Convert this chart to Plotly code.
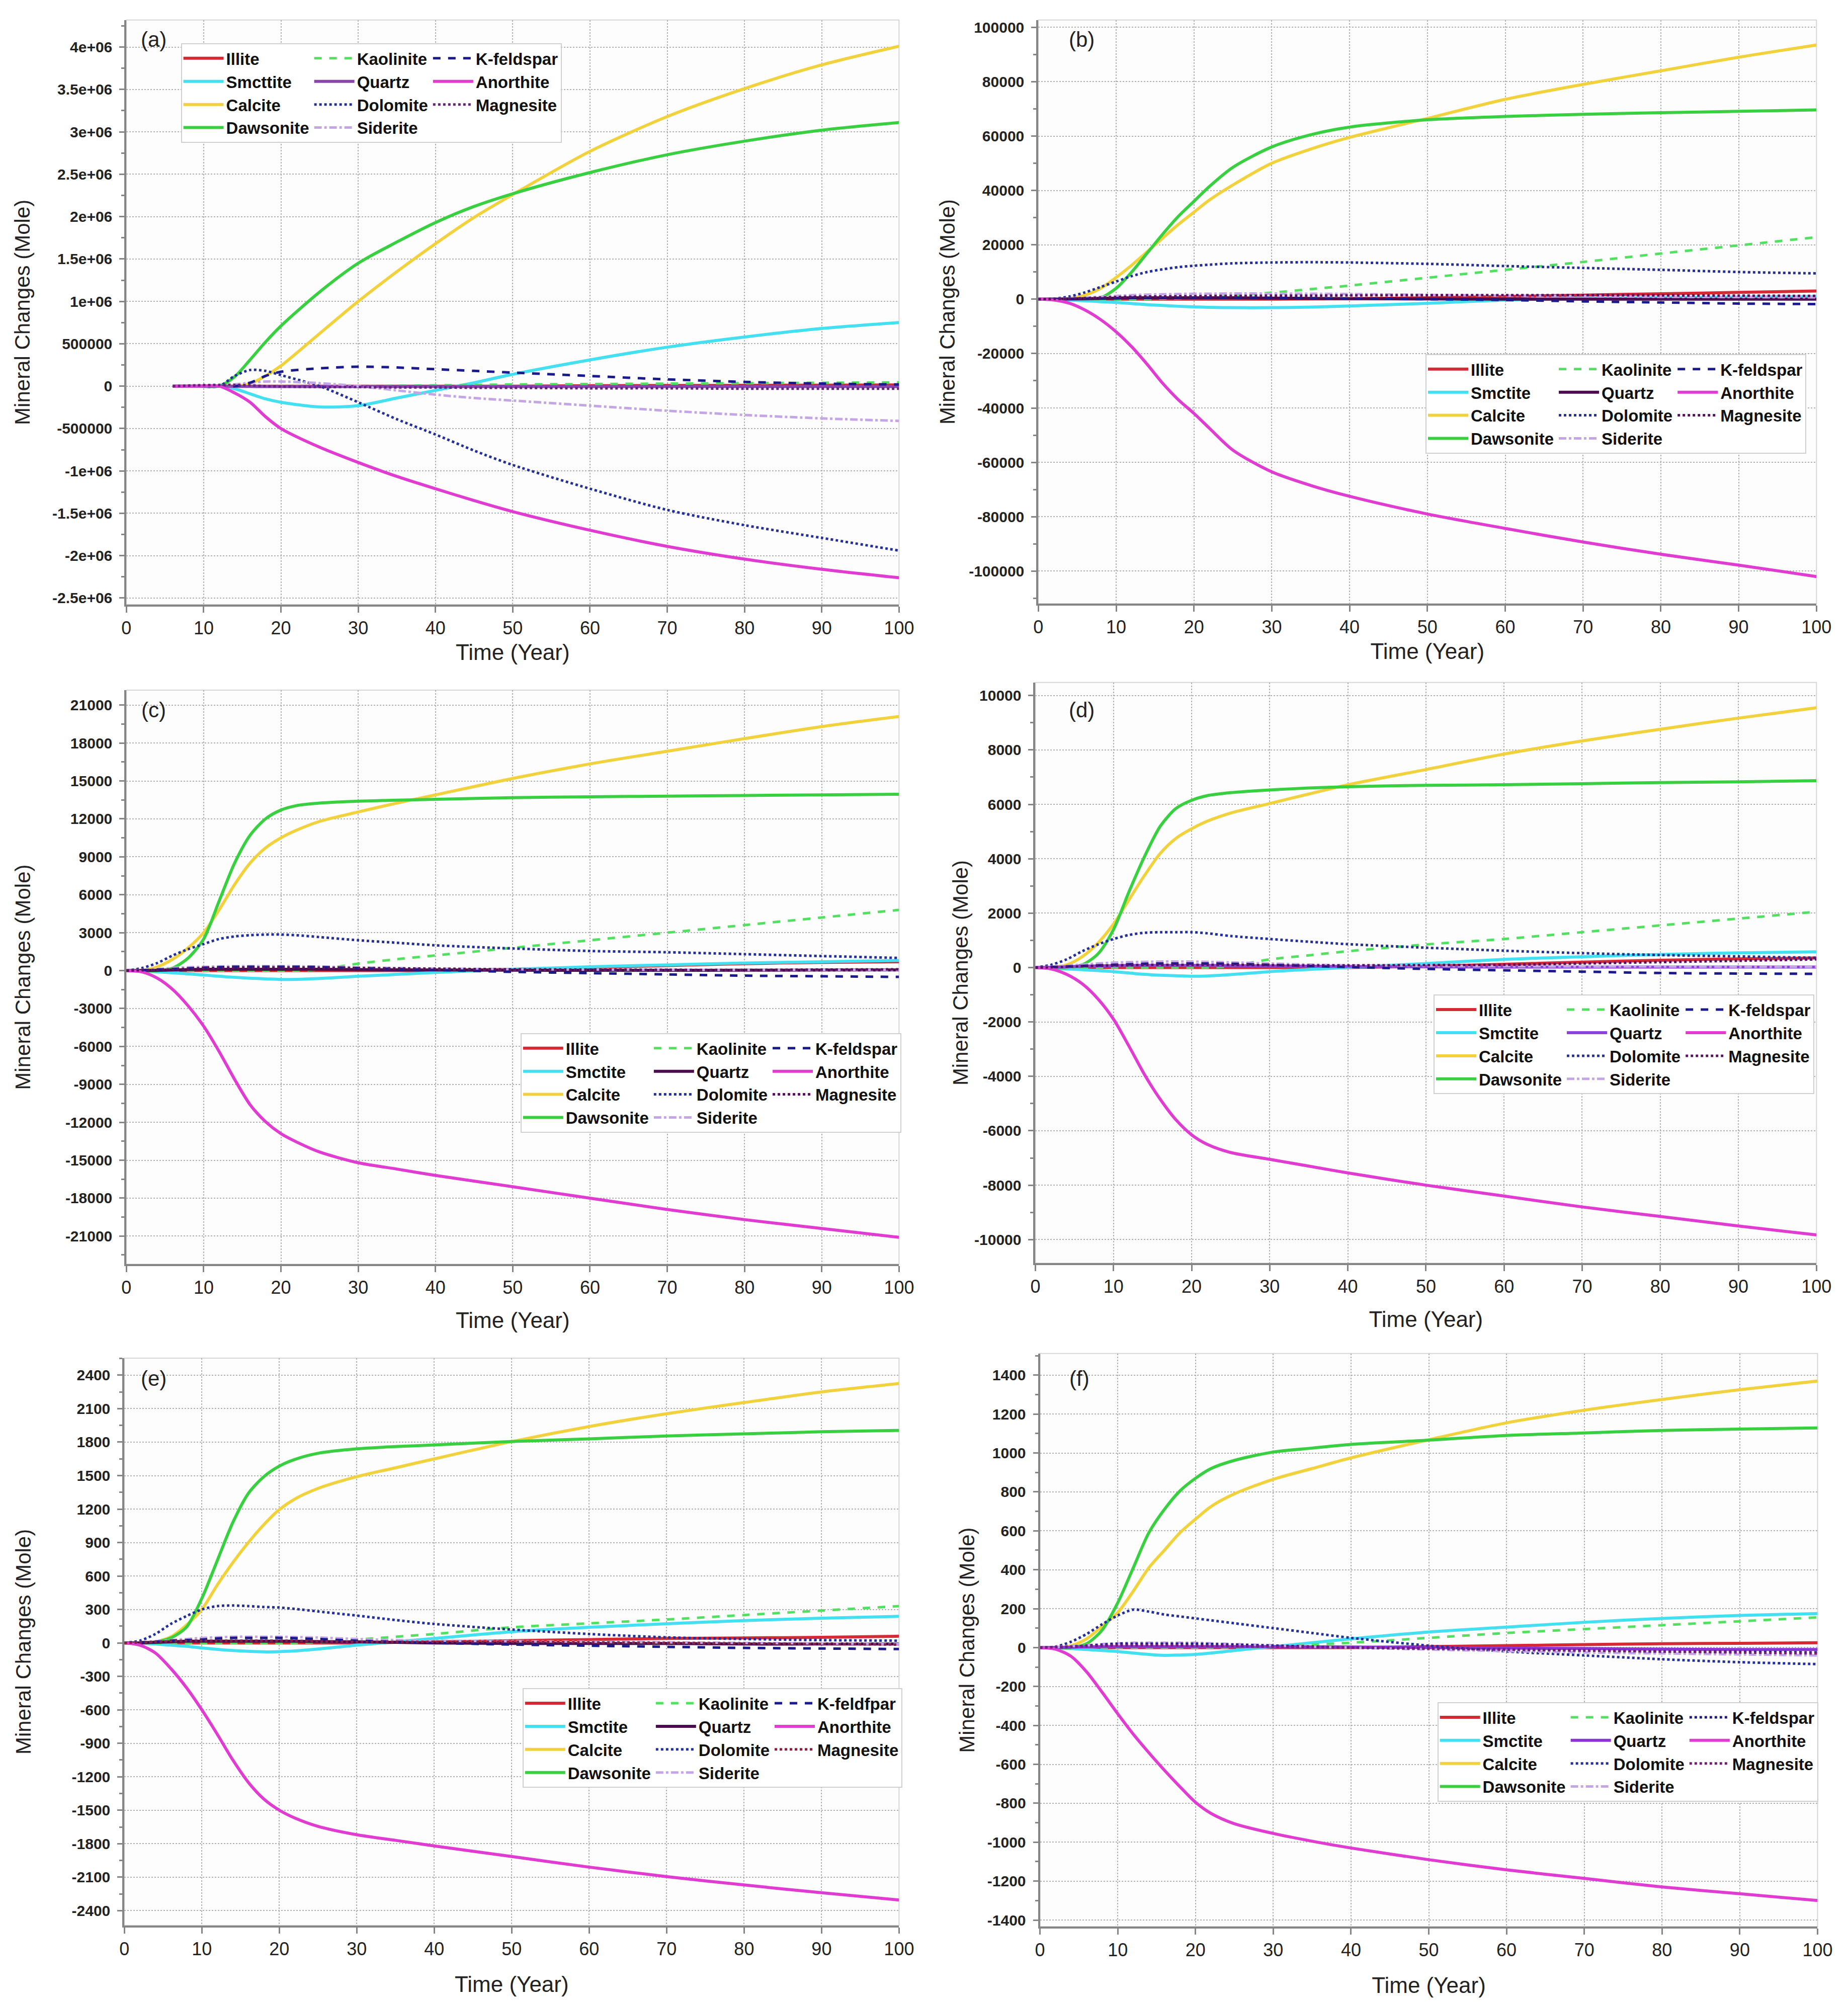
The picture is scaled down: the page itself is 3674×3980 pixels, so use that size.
import plotly.graph_objects as go

# time axes (years)
time_a = [6, 9, 12, 14, 16, 18, 20, 25, 30, 35, 40, 45, 50, 60, 70, 80, 90, 100]
time_bf = [0, 2, 4, 6, 8, 10, 12, 14, 16, 18, 20, 22, 25, 30, 35, 40, 50, 60, 70, 80, 90, 100]
x_ticks = [0, 10, 20, 30, 40, 50, 60, 70, 80, 90, 100]

# ---------- (a) ----------
a_illite = [0, 0, 0, 0, 0, 0, 0, 0, 0, 0, 0, 0, 0, 5000, 8000, 10000, 12000, 15000]
a_smectite = [0, 0, 0, -30000, -90000, -150000, -190000, -245000, -230000, -140000, -50000, 40000, 140000, 310000, 460000, 580000, 680000, 750000]
a_calcite = [0, 0, 0, 0, 30000, 120000, 240000, 620000, 1000000, 1350000, 1680000, 1990000, 2260000, 2770000, 3180000, 3510000, 3790000, 4010000]
a_dawsonite = [0, 0, 0, 110000, 310000, 520000, 710000, 1110000, 1450000, 1700000, 1930000, 2120000, 2270000, 2520000, 2730000, 2890000, 3020000, 3110000]
a_kaolinite = [0, 0, 0, 0, 0, 0, 0, 0, 0, 5000, 10000, 15000, 20000, 25000, 30000, 35000, 40000, 45000]
a_quartz = [0, 0, 0, -2000, -4000, -5000, -5000, -5000, -5000, -5000, -5000, -5000, -5000, -5000, -5000, -5000, -5000, -5000]
a_dolomite = [0, 0, 0, 120000, 190000, 180000, 130000, 0, -190000, -390000, -570000, -760000, -930000, -1210000, -1460000, -1640000, -1790000, -1940000]
a_siderite = [0, 0, 0, 20000, 40000, 55000, 55000, 35000, 0, -50000, -100000, -140000, -170000, -230000, -290000, -340000, -380000, -410000]
a_kfeldspar = [0, 0, 0, 0, 40000, 120000, 170000, 210000, 230000, 220000, 200000, 180000, 160000, 120000, 80000, 50000, 30000, 20000]
a_anorthite = [0, 0, 0, -80000, -190000, -360000, -500000, -720000, -900000, -1065000, -1210000, -1350000, -1480000, -1700000, -1890000, -2040000, -2160000, -2260000]
a_magnesite = [0, 10000, 15000, 15000, 10000, 0, -5000, -10000, -10000, -15000, -15000, -20000, -20000, -25000, -25000, -30000, -30000, -30000]

# ---------- (b) ----------
b_illite = [0, 0, 0, 0, 0, 0, 0, 0, 0, 0, 0, 0, 0, 0, 100, 200, 500, 1000, 1500, 2000, 2500, 3000]
b_smectite = [0, -100, -300, -600, -900, -1200, -1600, -2000, -2300, -2600, -2800, -3000, -3100, -3100, -2900, -2500, -1500, -300, 300, 600, 800, 1000]
b_calcite = [0, 0, 300, 1500, 4000, 8000, 12500, 17500, 22500, 27500, 32000, 36500, 42000, 50000, 55200, 59500, 66500, 73500, 79000, 84000, 89000, 93500]
b_dawsonite = [0, 0, 0, 0, 500, 4000, 10000, 17000, 24000, 30500, 36000, 41500, 48500, 56000, 60500, 63300, 66000, 67200, 68000, 68600, 69100, 69600]
b_kaolinite = [0, 0, 0, 0, 0, 0, 0, 100, 200, 300, 500, 700, 1300, 2400, 3700, 5000, 7900, 10800, 13700, 16800, 19800, 22800]
b_quartz = [0, 0, 100, 200, 300, 400, 500, 500, 500, 500, 500, 500, 500, 400, 300, 200, 100, 0, 0, 0, 0, 0]
b_dolomite = [0, 200, 1000, 2500, 4500, 6500, 8500, 10000, 11000, 11800, 12300, 12700, 13200, 13500, 13600, 13500, 13000, 12200, 11500, 10800, 10000, 9500]
b_siderite = [0, 100, 300, 600, 900, 1200, 1500, 1700, 1800, 1900, 2000, 2000, 2100, 2100, 2000, 1900, 1600, 1300, 1100, 900, 800, 700]
b_kfeldspar = [0, 50, 100, 200, 300, 400, 500, 550, 600, 600, 600, 600, 550, 500, 300, 200, 0, -300, -800, -1200, -1600, -1800]
b_anorthite = [0, -300, -1500, -4000, -7500, -12000, -17500, -24000, -31000, -37000, -42000, -47500, -55500, -63500, -68500, -72500, -79000, -84300, -89300, -93800, -97800, -102000]
b_magnesite = [0, 100, 200, 400, 600, 800, 900, 1000, 1000, 1100, 1100, 1200, 1200, 1300, 1300, 1400, 1500, 1500, 1500, 1400, 1300, 1200]

# ---------- (c) ----------
c_illite = [0, 0, 0, 0, 0, 0, 0, 0, 0, 0, 0, 0, 0, 0, 0, 0, 100, 250, 400, 550, 650, 700]
c_smectite = [0, -30, -100, -180, -260, -350, -450, -530, -600, -650, -700, -690, -620, -450, -300, -150, 100, 300, 450, 600, 700, 800]
c_calcite = [0, 0, 300, 900, 1800, 3000, 4800, 6800, 8500, 9700, 10500, 11100, 11800, 12550, 13250, 13900, 15200, 16350, 17350, 18350, 19300, 20100]
c_dawsonite = [0, 0, 0, 200, 1000, 2500, 5500, 8500, 10700, 12000, 12700, 13050, 13250, 13400, 13480, 13550, 13680, 13750, 13800, 13850, 13900, 13950]
c_kaolinite = [0, 0, 0, 0, 0, 0, 0, 0, 0, 0, 0, 0, 100, 550, 900, 1200, 1800, 2400, 3000, 3600, 4200, 4800]
c_quartz = [0, 0, 20, 50, 80, 100, 100, 100, 100, 100, 100, 100, 100, 80, 60, 50, 30, 20, 20, 30, 40, 50]
c_dolomite = [0, 200, 600, 1200, 1700, 2100, 2500, 2700, 2800, 2850, 2850, 2800, 2650, 2400, 2200, 2000, 1750, 1550, 1450, 1300, 1150, 1000]
c_siderite = [0, 50, 120, 200, 260, 300, 330, 350, 350, 350, 350, 340, 320, 250, 200, 150, 100, 80, 60, 50, 50, 50]
c_kfeldspar = [0, 30, 80, 130, 180, 230, 270, 300, 300, 300, 300, 300, 280, 200, 120, 50, -100, -200, -300, -400, -450, -500]
c_anorthite = [0, -100, -600, -1500, -2800, -4400, -6400, -8600, -10600, -11950, -12900, -13550, -14350, -15200, -15700, -16200, -17100, -18000, -18900, -19700, -20400, -21100]
c_magnesite = [0, 30, 60, 100, 150, 200, 220, 250, 250, 250, 250, 250, 230, 200, 170, 150, 100, 80, 60, 50, 80, 100]

# ---------- (d) ----------
d_illite = [0, 0, 0, 0, 0, 0, 0, 0, 0, 0, 0, 0, 0, 0, 0, 0, 50, 120, 200, 270, 320, 350]
d_smectite = [0, -20, -50, -80, -110, -150, -200, -250, -280, -300, -320, -310, -260, -150, -70, 0, 150, 300, 400, 480, 540, 580]
d_calcite = [0, 0, 100, 400, 900, 1600, 2500, 3400, 4200, 4750, 5100, 5380, 5680, 6030, 6380, 6720, 7280, 7850, 8330, 8760, 9170, 9550]
d_dawsonite = [0, 0, 0, 100, 500, 1400, 2800, 4100, 5200, 5850, 6150, 6320, 6430, 6530, 6600, 6650, 6700, 6720, 6760, 6800, 6830, 6870]
d_kaolinite = [0, 0, 0, 0, 0, 0, 0, 0, 0, 0, 0, 0, 50, 300, 450, 600, 850, 1050, 1300, 1550, 1800, 2050]
d_quartz = [0, 10, 30, 50, 60, 70, 80, 80, 80, 80, 80, 80, 70, 60, 50, 40, 30, 20, 20, 20, 20, 20]
d_dolomite = [0, 100, 300, 600, 850, 1050, 1200, 1280, 1300, 1300, 1300, 1260, 1160, 1050, 950, 860, 730, 620, 530, 460, 410, 360]
d_siderite = [0, 30, 70, 110, 150, 180, 200, 210, 220, 220, 220, 210, 190, 150, 110, 80, 60, 50, 40, 40, 30, 30]
d_kfeldspar = [0, 20, 40, 60, 80, 100, 120, 140, 150, 150, 150, 150, 140, 100, 60, 20, -50, -100, -150, -200, -220, -230]
d_anorthite = [0, -50, -250, -600, -1150, -1900, -2900, -3950, -4850, -5600, -6150, -6500, -6800, -7050, -7300, -7550, -8000, -8400, -8800, -9150, -9500, -9830]
d_magnesite = [0, 10, 30, 50, 70, 80, 90, 100, 100, 100, 100, 100, 100, 90, 80, 80, 90, 100, 150, 200, 250, 300]

# ---------- (e) ----------
e_illite = [0, 0, 0, 0, 0, 0, 0, 0, 0, 0, 0, 0, 0, 0, 5, 10, 20, 30, 40, 45, 50, 60]
e_smectite = [0, -3, -10, -20, -30, -45, -58, -68, -75, -80, -78, -72, -55, -20, 10, 40, 100, 140, 172, 200, 222, 238]
e_calcite = [0, 0, 10, 55, 160, 300, 520, 720, 900, 1060, 1195, 1290, 1385, 1490, 1570, 1650, 1805, 1940, 2055, 2155, 2250, 2325]
e_dawsonite = [0, 0, 10, 45, 140, 400, 740, 1080, 1340, 1490, 1585, 1645, 1700, 1740, 1760, 1775, 1806, 1829, 1855, 1874, 1893, 1905]
e_kaolinite = [0, 0, 0, 0, 0, 0, 0, 0, 0, 0, 0, 0, 5, 30, 55, 80, 140, 175, 210, 250, 290, 330]
e_quartz = [0, 0, 5, 10, 15, 15, 15, 15, 15, 15, 15, 15, 12, 10, 5, 0, -5, -5, -5, -10, -10, -10]
e_dolomite = [0, 20, 80, 170, 240, 300, 330, 335, 330, 322, 317, 305, 282, 245, 205, 170, 120, 80, 50, 35, 25, 20]
e_siderite = [0, 5, 15, 25, 35, 45, 50, 55, 55, 55, 55, 52, 48, 35, 25, 20, 15, 10, 5, 0, -5, -10]
e_kfeldspar = [0, 5, 10, 20, 25, 30, 40, 45, 45, 45, 45, 42, 35, 20, 10, 0, -15, -25, -35, -45, -50, -55]
e_anorthite = [0, -20, -90, -230, -400, -600, -820, -1050, -1250, -1400, -1500, -1570, -1645, -1720, -1770, -1820, -1915, -2010, -2095, -2170, -2240, -2305]
e_magnesite = [0, 5, 10, 15, 20, 20, 20, 20, 20, 20, 20, 20, 15, 10, 10, 10, 10, 5, 0, -5, -10, -15]

# ---------- (f) ----------
f_illite = [0, 0, 0, 0, 0, 0, 0, 0, 0, 0, 0, 0, 0, 0, 0, 0, 5, 10, 15, 20, 22, 25]
f_smectite = [0, -2, -5, -10, -15, -20, -28, -35, -40, -38, -35, -28, -15, 5, 25, 45, 80, 105, 130, 150, 165, 175]
f_calcite = [0, 0, 10, 45, 110, 180, 290, 410, 500, 590, 660, 725, 790, 865, 920, 975, 1068, 1155, 1220, 1275, 1325, 1370]
f_dawsonite = [0, 0, 0, 20, 90, 230, 410, 590, 710, 805, 870, 920, 962, 1005, 1025, 1044, 1066, 1090, 1103, 1116, 1123, 1129]
f_kaolinite = [0, 0, 0, 0, 0, 0, 0, 0, 0, 0, 0, 0, 0, 5, 15, 25, 50, 75, 95, 115, 135, 155]
f_quartz = [0, 0, 2, 4, 5, 5, 5, 5, 5, 5, 5, 5, 5, 5, 4, 3, 0, -3, -5, -8, -10, -10]
f_dolomite = [0, 5, 30, 70, 120, 165, 195, 185, 170, 160, 150, 140, 125, 100, 75, 50, 10, -20, -40, -60, -75, -85]
f_siderite = [0, 3, 8, 12, 18, 22, 25, 25, 25, 25, 25, 22, 18, 12, 5, 0, -10, -18, -25, -30, -35, -40]
f_kfeldspar = [0, 2, 5, 10, 15, 20, 20, 20, 20, 20, 20, 18, 15, 10, 5, 0, -5, -10, -15, -20, -22, -25]
f_anorthite = [0, -8, -45, -125, -230, -340, -445, -540, -630, -715, -795, -852, -905, -955, -995, -1030, -1090, -1142, -1186, -1230, -1265, -1300]
f_magnesite = [0, 2, 5, 8, 10, 12, 12, 12, 12, 12, 10, 10, 8, 5, 2, 0, -5, -10, -15, -20, -25, -30]

# legend names, in legend column order
names_a = ["Illite", "Smcttite", "Calcite", "Dawsonite", "Kaolinite", "Quartz", "Dolomite", "Siderite", "K-feldspar", "Anorthite", "Magnesite"]
names_std = ["Illite", "Smctite", "Calcite", "Dawsonite", "Kaolinite", "Quartz", "Dolomite", "Siderite", "K-feldspar", "Anorthite", "Magnesite"]
names_e = ["Illite", "Smctite", "Calcite", "Dawsonite", "Kaolinite", "Quartz", "Dolomite", "Siderite", "K-feldfpar", "Anorthite", "Magnesite"]

# y ticks
yt_a = [4000000, 3500000, 3000000, 2500000, 2000000, 1500000, 1000000, 500000, 0, -500000, -1000000, -1500000, -2000000, -2500000]
yl_a = ["4e+06", "3.5e+06", "3e+06", "2.5e+06", "2e+06", "1.5e+06", "1e+06", "500000", "0", "-500000", "-1e+06", "-1.5e+06", "-2e+06", "-2.5e+06"]
yt_b = [100000, 80000, 60000, 40000, 20000, 0, -20000, -40000, -60000, -80000, -100000]
yt_c = [21000, 18000, 15000, 12000, 9000, 6000, 3000, 0, -3000, -6000, -9000, -12000, -15000, -18000, -21000]
yt_d = [10000, 8000, 6000, 4000, 2000, 0, -2000, -4000, -6000, -8000, -10000]
yt_e = [2400, 2100, 1800, 1500, 1200, 900, 600, 300, 0, -300, -600, -900, -1200, -1500, -1800, -2100, -2400]
yt_f = [1400, 1200, 1000, 800, 600, 400, 200, 0, -200, -400, -600, -800, -1000, -1200, -1400]

panels = [
    dict(tag="(a)", t=time_a, names=names_a, yt=yt_a, yl=yl_a,
         data=[a_illite, a_smectite, a_calcite, a_dawsonite, a_kaolinite, a_quartz,
               a_dolomite, a_siderite, a_kfeldspar, a_anorthite, a_magnesite]),
    dict(tag="(b)", t=time_bf, names=names_std, yt=yt_b, yl=[str(v) for v in yt_b],
         data=[b_illite, b_smectite, b_calcite, b_dawsonite, b_kaolinite, b_quartz,
               b_dolomite, b_siderite, b_kfeldspar, b_anorthite, b_magnesite]),
    dict(tag="(c)", t=time_bf, names=names_std, yt=yt_c, yl=[str(v) for v in yt_c],
         data=[c_illite, c_smectite, c_calcite, c_dawsonite, c_kaolinite, c_quartz,
               c_dolomite, c_siderite, c_kfeldspar, c_anorthite, c_magnesite]),
    dict(tag="(d)", t=time_bf, names=names_std, yt=yt_d, yl=[str(v) for v in yt_d],
         data=[d_illite, d_smectite, d_calcite, d_dawsonite, d_kaolinite, d_quartz,
               d_dolomite, d_siderite, d_kfeldspar, d_anorthite, d_magnesite]),
    dict(tag="(e)", t=time_bf, names=names_e, yt=yt_e, yl=[str(v) for v in yt_e],
         data=[e_illite, e_smectite, e_calcite, e_dawsonite, e_kaolinite, e_quartz,
               e_dolomite, e_siderite, e_kfeldspar, e_anorthite, e_magnesite]),
    dict(tag="(f)", t=time_bf, names=names_std, yt=yt_f, yl=[str(v) for v in yt_f],
         data=[f_illite, f_smectite, f_calcite, f_dawsonite, f_kaolinite, f_quartz,
               f_dolomite, f_siderite, f_kfeldspar, f_anorthite, f_magnesite]),
]

# layout / style settings per panel
xdom = [[0.0642, 0.4869], [0.5631, 0.9888], [0.0642, 0.4869], [0.5615, 0.9888], [0.0631, 0.4869], [0.5640, 0.9894]]
ydom = [[0.7001, 0.9925], [0.7005, 0.9925], [0.3701, 0.6573], [0.3706, 0.6611], [0.0393, 0.3231], [0.0387, 0.3254]]
yrng = [[-2576000, 4319000], [-112000, 102680], [-23225, 22190], [-10868, 10480], [-2533, 2553], [-1434, 1511]]
minor_step = [250000, 10000, 1500, 1000, 150, 100]
legpos = [(0.0940, 0.9809), (0.7749, 0.8254), (0.2798, 0.4857), (0.7793, 0.5050), (0.2809, 0.1580), (0.7814, 0.1510)]
tagpos = [(0.0792, 0.9828), (0.5869, 0.9828), (0.0792, 0.6473), (0.5869, 0.6473), (0.0792, 0.3130), (0.5855, 0.3130)]
ystand = [32, 15, 57, 0, 69, 13]
xstand = [14, 14, 31, 31, 36, 36]
quartz_col = ["#8a44b0", "#4a0c4e", "#4a0c4e", "#9040e0", "#4a0c4e", "#8a34d6"]
magn_col = ["#6a2080", "#5a1060", "#5a1060", "#5a1060", "#8a2040", "#7a1880"]

base_style = [
    ("#d42a35", "solid"),   # Illite
    ("#42e0f0", "solid"),   # Smectite
    ("#f2d23c", "solid"),   # Calcite
    ("#38d040", "solid"),   # Dawsonite
    ("#52e060", "dash"),    # Kaolinite
    (None, "solid"),        # Quartz
    ("#23309a", "dot"),     # Dolomite
    ("#c4a6e6", "dashdot"), # Siderite
    ("#1a1a8c", "dash"),    # K-feldspar
    ("#e03cd2", "solid"),   # Anorthite
    (None, "dot"),          # Magnesite
]
groups = [0, 0, 0, 0, 1, 1, 1, 1, 2, 2, 2]

FONT = "Liberation Sans"
GRAY = "#858585"

fig = go.Figure()
layout = dict(width=3674, height=3980, margin=dict(l=0, r=0, t=0, b=0),
              paper_bgcolor="white", plot_bgcolor="#fdfdfd", annotations=[], shapes=[])

for i, p in enumerate(panels):
    n = i + 1
    sfx = "" if n == 1 else str(n)
    leg = "legend" + sfx
    for k in range(11):
        col, dash = base_style[k]
        if k == 5:
            col = quartz_col[i]
        if k == 10:
            col = magn_col[i]
        if k == 8 and p["tag"] == "(f)":
            dash = "dot"
        fig.add_trace(go.Scatter(
            x=p["t"], y=p["data"][k], name=p["names"][k], mode="lines",
            line=dict(color=col, dash=dash, width=6 if dash == "solid" else 5,
                      shape="spline", smoothing=0.8),
            xaxis="x" + sfx, yaxis="y" + sfx, legend=leg,
            legendgroup=f"{p['tag']}{groups[k]}",
        ))

    layout["xaxis" + sfx] = dict(
        domain=xdom[i], anchor="y" + sfx, range=[0, 100], tickvals=x_ticks,
        showline=True, linecolor=GRAY, linewidth=4, ticks="outside", ticklen=12,
        tickwidth=3, tickcolor=GRAY, ticklabelstandoff=0,
        showgrid=True, gridcolor="#b0b0b0", griddash="dot", gridwidth=2, zeroline=False,
        tickfont=dict(family=FONT, size=36, color="#222"),
        title=dict(text="Time (Year)", font=dict(family=FONT, size=44, color="#222"),
                   standoff=xstand[i]),
    )
    layout["yaxis" + sfx] = dict(
        domain=ydom[i], anchor="x" + sfx, range=yrng[i], tickvals=p["yt"], ticktext=p["yl"],
        showline=True, linecolor=GRAY, linewidth=4, ticks="outside", ticklen=10,
        tickwidth=3, tickcolor=GRAY, ticklabelstandoff=8,
        minor=dict(ticks="outside", ticklen=6, tickcolor=GRAY, dtick=minor_step[i],
                   tick0=0, showgrid=False),
        showgrid=True, gridcolor="#b0b0b0", griddash="dot", gridwidth=2, zeroline=False,
        tickfont=dict(family=FONT, size=30, color="#222", weight="bold"),
        title=dict(text="Mineral Changes (Mole)", font=dict(family=FONT, size=42, color="#222"),
                   standoff=ystand[i]),
    )
    layout[leg] = dict(
        x=legpos[i][0], y=legpos[i][1], xanchor="left", yanchor="top",
        orientation="h", traceorder="grouped", itemwidth=80, tracegroupgap=0,
        bgcolor="white", bordercolor="#cfcfcf", borderwidth=2,
        font=dict(family=FONT, size=33, color="#111", weight="bold"),
    )
    layout["shapes"].append(dict(
        type="rect", xref=f"x{sfx} domain", yref=f"y{sfx} domain",
        x0=0, x1=1, y0=0, y1=1, line=dict(color="#d6d6d6", width=2), layer="below",
    ))
    layout["annotations"].append(dict(
        text=p["tag"], xref="paper", yref="paper", x=tagpos[i][0], y=tagpos[i][1],
        xanchor="center", yanchor="middle", showarrow=False,
        font=dict(family=FONT, size=42, color="#222"),
    ))

fig.update_layout(**layout)
fig.write_html("out.html")
